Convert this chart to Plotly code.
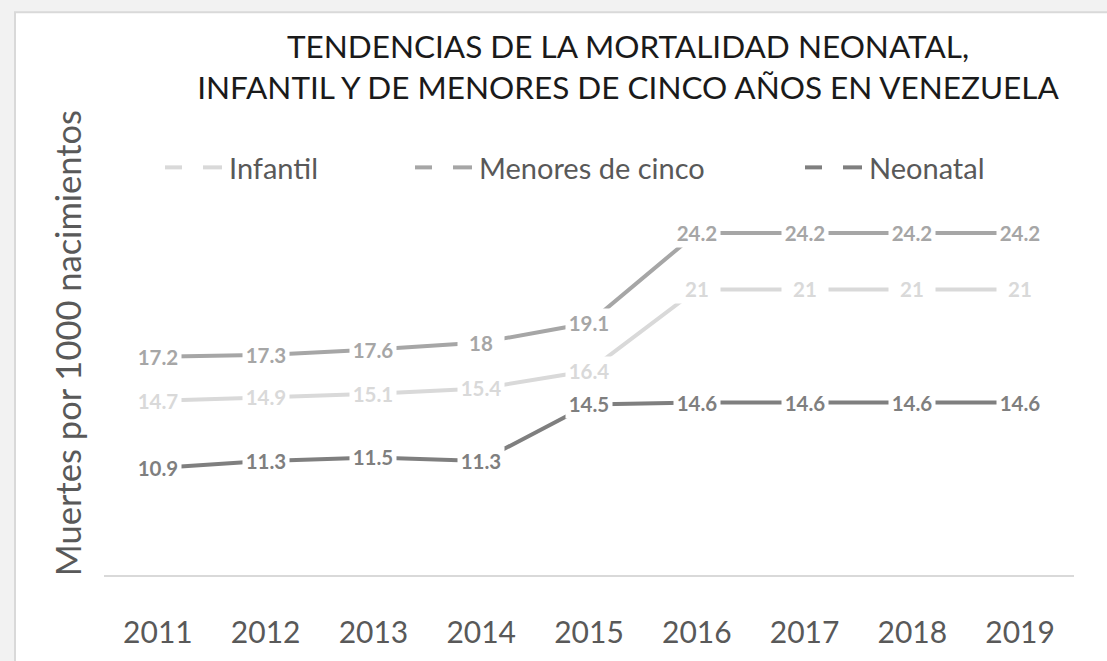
import plotly.graph_objects as go

years = [2011, 2012, 2013, 2014, 2015, 2016, 2017, 2018, 2019]
infantil = [14.7, 14.9, 15.1, 15.4, 16.4, 21, 21, 21, 21]
menores = [17.2, 17.3, 17.6, 18, 19.1, 24.2, 24.2, 24.2, 24.2]
neonatal = [10.9, 11.3, 11.5, 11.3, 14.5, 14.6, 14.6, 14.6, 14.6]
tick_labels = [str(y) for y in years]

series = [
    ("Infantil", infantil, "#d9d9d9", "#d9d9d9"),
    ("Menores de cinco", menores, "#a6a6a6", "#a6a6a6"),
    ("Neonatal", neonatal, "#7f7f7f", "#7f7f7f"),
]

W, H = 1107, 661
L, R, T, B = 104, 33, 133, 78
pw, ph = W - L - R, H - T - B

def px2x(px):
    return (px - L) / pw

def py2y(py):
    return (H - B - py) / ph

FONT = "Lato"
fig = go.Figure()
annotations = []
shapes = []

for name, vals, lc, tc in series:
    fig.add_trace(go.Scatter(x=years, y=vals, mode="lines", name=name,
                             line=dict(color=lc, width=4), showlegend=False,
                             hoverinfo="skip"))

for name, vals, lc, tc in series:
    for xv, yv in zip(years, vals):
        annotations.append(dict(x=xv, y=yv, xref="x", yref="y", text=f"{yv:g}",
                                showarrow=False, bgcolor="white", width=44, height=26,
                                font=dict(family=FONT, size=20.5, color=tc, weight="bold"),
                                xanchor="center", yanchor="middle"))

# background frame
shapes.append(dict(type="rect", xref="paper", yref="paper", layer="below",
                   x0=px2x(15), x1=px2x(1130), y0=py2y(690), y1=py2y(10),
                   fillcolor="white", line=dict(color="#d9d9d9", width=2)))

# manual legend
legend_starts = [165, 415, 805]
legend_y = 168
for (name, vals, lc, tc), s in zip(series, legend_starts):
    for a, b in [(s, s + 17), (s + 38, s + 57)]:
        shapes.append(dict(type="line", xref="paper", yref="paper",
                           x0=px2x(a), x1=px2x(b), y0=py2y(legend_y), y1=py2y(legend_y),
                           line=dict(color=lc, width=4)))
    annotations.append(dict(x=px2x(s + 62), y=py2y(legend_y), xref="paper", yref="paper",
                            text=name, showarrow=False, xanchor="left", yanchor="middle",
                            font=dict(family=FONT, size=29, color="#595959")))

# y-axis title
annotations.append(dict(x=px2x(67), y=py2y(347), xref="paper", yref="paper",
                        text="Muertes por 1000 nacimientos", textangle=-90,
                        showarrow=False, xanchor="center", yanchor="middle",
                        font=dict(family=FONT, size=34.5, color="#595959")))

fig.update_layout(
    width=W, height=H,
    margin=dict(l=L, r=R, t=T, b=B),
    paper_bgcolor="#f2f2f2", plot_bgcolor="white",
    title=dict(text="TENDENCIAS DE LA MORTALIDAD NEONATAL,<br>INFANTIL Y DE MENORES DE CINCO AÑOS EN VENEZUELA",
               x=628 / W, xanchor="center", xref="container",
               y=1 - 58 / H, yanchor="middle", yref="container",
               font=dict(family=FONT, size=31.5, color="#1a1a1a")),
    xaxis=dict(range=[2010.5, 2019.5], tickmode="array", tickvals=years, ticktext=tick_labels,
               showgrid=False, zeroline=False, showline=True, linecolor="#d9d9d9", linewidth=2,
               ticks="", ticklabelstandoff=30,
               tickfont=dict(family=FONT, size=30, color="#595959")),
    yaxis=dict(range=[4.85, 29.85], visible=False, showgrid=False, zeroline=False),
    annotations=annotations, shapes=shapes,
    showlegend=False,
)

fig.write_html("out.html", config={"displayModeBar": False},
               post_script="document.body.style.margin='0';document.body.style.overflow='hidden';")
